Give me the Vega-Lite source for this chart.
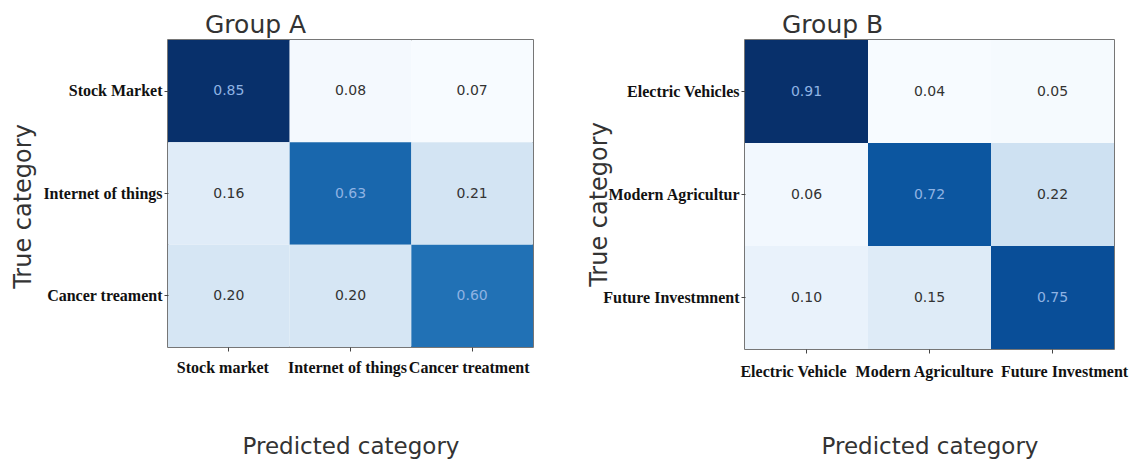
{
  "$schema": "https://vega.github.io/schema/vega-lite/v6.json",
  "background": "white",
  "padding": {"left": 10, "top": 12, "right": 5, "bottom": 2},
  "bounds": "flush",
  "spacing": 212,
  "data": {"values": [
    {"group": "A", "true": "Stock Market", "pred": "Stock market", "value": 0.85},
    {"group": "A", "true": "Stock Market", "pred": "Internet of things", "value": 0.08},
    {"group": "A", "true": "Stock Market", "pred": "Cancer treatment", "value": 0.07},
    {"group": "A", "true": "Internet of things", "pred": "Stock market", "value": 0.16},
    {"group": "A", "true": "Internet of things", "pred": "Internet of things", "value": 0.63},
    {"group": "A", "true": "Internet of things", "pred": "Cancer treatment", "value": 0.21},
    {"group": "A", "true": "Cancer treament", "pred": "Stock market", "value": 0.20},
    {"group": "A", "true": "Cancer treament", "pred": "Internet of things", "value": 0.20},
    {"group": "A", "true": "Cancer treament", "pred": "Cancer treatment", "value": 0.60},
    {"group": "B", "true": "Electric Vehicles", "pred": "Electric Vehicle", "value": 0.91},
    {"group": "B", "true": "Electric Vehicles", "pred": "Modern Agriculture", "value": 0.04},
    {"group": "B", "true": "Electric Vehicles", "pred": "Future Investment", "value": 0.05},
    {"group": "B", "true": "Modern Agricultur", "pred": "Electric Vehicle", "value": 0.06},
    {"group": "B", "true": "Modern Agricultur", "pred": "Modern Agriculture", "value": 0.72},
    {"group": "B", "true": "Modern Agricultur", "pred": "Future Investment", "value": 0.22},
    {"group": "B", "true": "Future Investmnent", "pred": "Electric Vehicle", "value": 0.10},
    {"group": "B", "true": "Future Investmnent", "pred": "Modern Agriculture", "value": 0.15},
    {"group": "B", "true": "Future Investmnent", "pred": "Future Investment", "value": 0.75}
  ]},
  "config": {
    "view": {"stroke": "#4a4a4a", "strokeWidth": 1.5},
    "axis": {
      "domain": false,
      "grid": false,
      "tickSize": 4,
      "tickColor": "#444",
      "labelFont": "Liberation Serif",
      "labelFontWeight": "bold",
      "labelFontSize": 16,
      "labelColor": "#111",
      "labelOverlap": false,
      "titleFont": "DejaVu Sans",
      "titleFontWeight": "normal",
      "titleFontSize": 24,
      "titleColor": "#333"
    },
    "title": {"font": "DejaVu Sans", "fontSize": 25, "fontWeight": "normal", "color": "#333", "anchor": "start", "frame": "group"}
  },
  "resolve": {"scale": {"color": "independent"}},
  "hconcat": [
    {
      "width": 365,
      "height": 307,
      "title": {"text": "Group A", "dx": 37, "offset": 2},
      "transform": [{"filter": "datum.group === 'A'"}],
      "encoding": {
        "x": {"field": "pred", "type": "nominal", "sort": ["Stock market", "Internet of things", "Cancer treatment"],
              "axis": {"orient": "bottom", "labelAngle": 0, "labelPadding": 8,
                       "labelOffset": {"condition": {"test": "datum.value === 'Stock market'", "value": -6}, "value": -3},
                       "title": "Predicted category", "titleFontSize": 23, "titleBaseline": "middle", "titleY": 99}},
        "y": {"field": "true", "type": "nominal", "sort": ["Stock Market", "Internet of things", "Cancer treament"],
              "axis": {"labelPadding": 2, "title": "True category", "titleX": -145, "titleY": 166, "titleBaseline": "middle", "titleAlign": "center", "titleAngle": -90}}
      },
      "layer": [
        {"mark": {"type": "rect"},
         "encoding": {"color": {"field": "value", "type": "quantitative", "legend": null,
            "scale": {"domain": [0.07, 0.1675, 0.265, 0.3625, 0.46, 0.5224, 0.6004, 0.694, 0.85],
                      "range": ["#f7fbff", "#deebf7", "#c6dbef", "#9ecae1", "#6baed6", "#4292c6", "#2171b5", "#08519c", "#08306b"]}}}},
        {"mark": {"type": "text", "font": "DejaVu Sans", "fontSize": 14},
         "encoding": {"text": {"field": "value", "type": "quantitative", "format": ".2f"},
            "color": {"condition": {"test": "datum.value > 0.5", "value": "#8fb3e3"}, "value": "#333333"}}}
      ]
    },
    {
      "width": 369,
      "height": 309,
      "title": {"text": "Group B", "dx": 37, "offset": 2},
      "transform": [{"filter": "datum.group === 'B'"}],
      "encoding": {
        "x": {"field": "pred", "type": "nominal", "sort": ["Electric Vehicle", "Modern Agriculture", "Future Investment"],
              "axis": {"orient": "bottom", "labelAngle": 0, "labelPadding": 10,
                       "labelOffset": {"condition": [
                          {"test": "datum.value === 'Electric Vehicle'", "value": -13},
                          {"test": "datum.value === 'Future Investment'", "value": 12}], "value": -5},
                       "title": "Predicted category", "titleFontSize": 23, "titleBaseline": "middle", "titleY": 97}},
        "y": {"field": "true", "type": "nominal", "sort": ["Electric Vehicles", "Modern Agricultur", "Future Investmnent"],
              "axis": {"labelPadding": 2, "title": "True category", "titleX": -146, "titleY": 164, "titleBaseline": "middle", "titleAlign": "center", "titleAngle": -90}}
      },
      "layer": [
        {"mark": {"type": "rect"},
         "encoding": {"color": {"field": "value", "type": "quantitative", "legend": null,
            "scale": {"domain": [0.04, 0.14875, 0.2575, 0.36625, 0.475, 0.5446, 0.6316, 0.736, 0.91],
                      "range": ["#f7fbff", "#deebf7", "#c6dbef", "#9ecae1", "#6baed6", "#4292c6", "#2171b5", "#08519c", "#08306b"]}}}},
        {"mark": {"type": "text", "font": "DejaVu Sans", "fontSize": 14},
         "encoding": {"text": {"field": "value", "type": "quantitative", "format": ".2f"},
            "color": {"condition": {"test": "datum.value > 0.5", "value": "#8fb3e3"}, "value": "#333333"}}}
      ]
    }
  ]
}
